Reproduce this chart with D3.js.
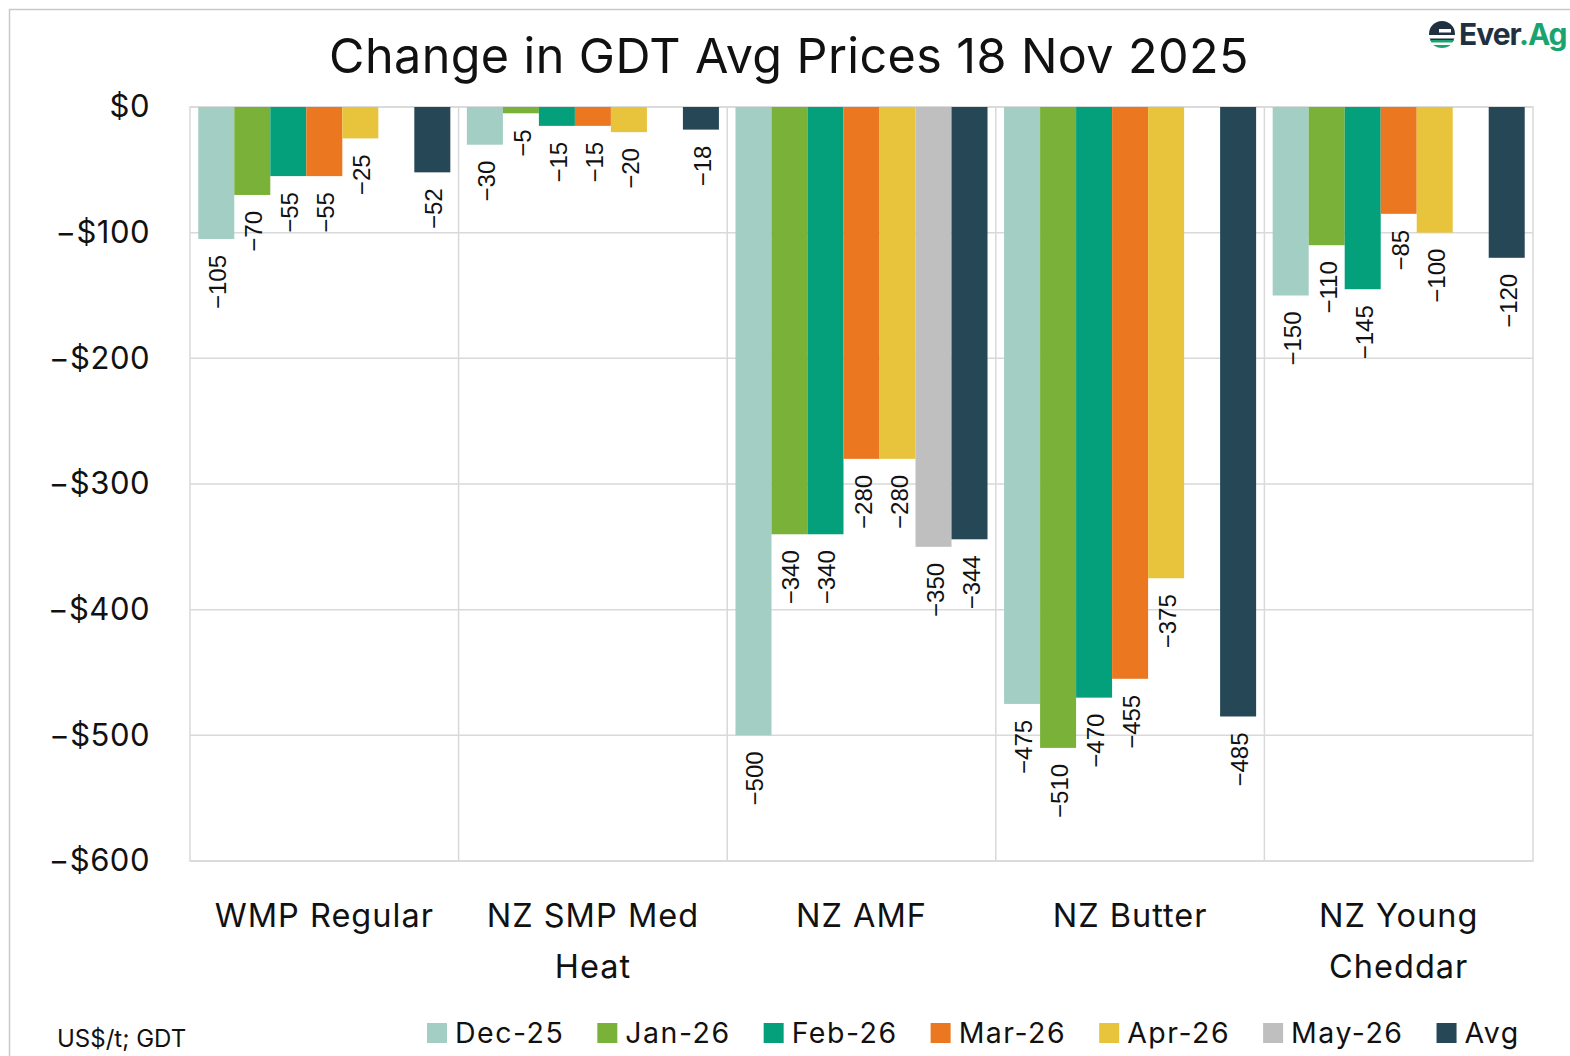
<!DOCTYPE html>
<html><head><meta charset="utf-8">
<script src="https://cdn.jsdelivr.net/npm/d3@7"></script>
<style>
html,body{margin:0;padding:0;background:#fff;}
svg{display:block;}
</style></head>
<body>
<svg id="chart" width="1570" height="1056"></svg>
<script>
const categories = ["WMP Regular", "NZ SMP Med Heat", "NZ AMF", "NZ Butter", "NZ Young Cheddar"];
const categoryLines = [["WMP Regular"], ["NZ SMP Med", "Heat"], ["NZ AMF"], ["NZ Butter"], ["NZ Young", "Cheddar"]];
const seriesNames = ["Dec-25", "Jan-26", "Feb-26", "Mar-26", "Apr-26", "May-26", "Avg"];
const dec25 = [-105, -30, -500, -475, -150];
const jan26 = [-70, -5, -340, -510, -110];
const feb26 = [-55, -15, -340, -470, -145];
const mar26 = [-55, -15, -280, -455, -85];
const apr26 = [-25, -20, -280, -375, -100];
const may26 = [null, null, -350, null, null];
const avg = [-52, -18, -344, -485, -120];
const yTicks = [0, -100, -200, -300, -400, -500, -600];
const colors = ["#a2cec3", "#7ab239", "#03a07b", "#eb7721", "#e8c33c", "#bfbfbf", "#264856"];

const seriesValues = [dec25, jan26, feb26, mar26, apr26, may26, avg];
const svg = d3.select("#chart");
const FONT = "Inter, 'Open Sans', sans-serif";

// outer frame
svg.append("rect").attr("x", 9.5).attr("y", 9.5).attr("width", 1620).attr("height", 1100)
  .attr("fill", "none").attr("stroke", "#c9c9c9").attr("stroke-width", 1.5);

const L = 190, R = 1533, T = 107, B = 861;
const x0 = d3.scaleBand().domain(categories).range([L, R]).padding(0);
const x1 = d3.scaleBand().domain(seriesNames).range([0, x0.bandwidth()]).paddingInner(0).paddingOuter(0.23);
const y = d3.scaleLinear().domain([-600, 0]).range([B, T]);

// gridlines
const grid = svg.append("g");
grid.selectAll("line.h").data(yTicks).join("line")
  .attr("x1", L).attr("x2", R).attr("y1", d => y(d)).attr("y2", d => y(d))
  .attr("stroke", "#d9d9d9").attr("stroke-width", 1.5);
grid.selectAll("line.v").data(categories.slice(1)).join("line")
  .attr("x1", d => x0(d)).attr("x2", d => x0(d)).attr("y1", T).attr("y2", B)
  .attr("stroke", "#d9d9d9").attr("stroke-width", 1.5);
grid.append("rect").attr("x", L).attr("y", T).attr("width", R - L).attr("height", B - T)
  .attr("fill", "none").attr("stroke", "#d9d9d9").attr("stroke-width", 1.5);

// y axis
const yAxis = d3.axisLeft(y).tickValues(yTicks).tickSize(0).tickPadding(40)
  .tickFormat(d => d === 0 ? "$0" : "\u2212$" + Math.abs(d));
const ya = svg.append("g").attr("transform", `translate(${L},0)`).call(yAxis);
ya.select(".domain").remove();
ya.selectAll("text").attr("font-family", FONT).attr("font-size", 31).attr("letter-spacing", 0.5).attr("fill", "#111");

// bars
const flat = [];
categories.forEach((c, ci) => {
  seriesNames.forEach((s, si) => {
    const v = seriesValues[si][ci];
    if (v !== null) flat.push({ c, s, v, color: colors[si] });
  });
});
const gb = svg.append("g");
gb.selectAll("rect").data(flat).join("rect")
  .attr("x", d => x0(d.c) + x1(d.s))
  .attr("y", d => y(0))
  .attr("width", x1.bandwidth())
  .attr("height", d => y(d.v) - y(0))
  .attr("fill", d => d.color);

// labels
gb.selectAll("text").data(flat).join("text")
  .attr("transform", d => `translate(${x0(d.c) + x1(d.s) + x1.bandwidth() / 2 + 10},${y(d.v) + 16}) rotate(-90)`)
  .attr("text-anchor", "end")
  .attr("font-family", "'Liberation Sans', Arial, sans-serif")
  .attr("font-size", 24).attr("fill", "#111")
  .text(d => "\u2212" + Math.abs(d.v));

// category labels
const gc = svg.append("g");
categories.forEach((c, i) => {
  const t = gc.append("text").attr("x", x0(c) + x0.bandwidth() / 2).attr("y", 927)
    .attr("text-anchor", "middle").attr("font-family", FONT).attr("font-size", 32.5)
    .attr("letter-spacing", 1).attr("fill", "#111");
  categoryLines[i].forEach((ln, li) => {
    t.append("tspan").attr("x", x0(c) + x0.bandwidth() / 2).attr("dy", li === 0 ? 0 : 51).text(ln);
  });
});

// title
svg.append("text").attr("x", 789).attr("y", 73).attr("text-anchor", "middle")
  .attr("font-family", FONT).attr("font-size", 48.5).attr("letter-spacing", 0.4).attr("fill", "#111")
  .text("Change in GDT Avg Prices 18 Nov 2025");

// unit note
svg.append("text").attr("x", 57).attr("y", 1047).attr("font-family", FONT).attr("font-size", 24).attr("fill", "#111")
  .text("US$/t; GDT");

// legend
const lg = svg.append("g");
let lx = 427;
seriesNames.forEach((s, i) => {
  lg.append("rect").attr("x", lx).attr("y", 1023).attr("width", 20).attr("height", 20).attr("fill", colors[i]);
  const t = lg.append("text").attr("x", lx + 28).attr("y", 1043).attr("font-family", FONT)
    .attr("font-size", 28.5).attr("letter-spacing", 1.5).attr("fill", "#111").text(s);
  lx += 28 + t.node().getComputedTextLength() + 33;
});

// logo
const logo = svg.append("g").attr("transform", "translate(1442,34)");
logo.append("circle").attr("r", 13).attr("fill", "#1f3140");
logo.append("rect").attr("x", -14).attr("y", 1).attr("width", 28).attr("height", 3.5).attr("fill", "#fff");
logo.append("path").attr("d", "M-12,6 L12,6 A13,13 0 0 1 -12,6 Z").attr("fill", "#1aa36f");
logo.append("rect").attr("x", -14).attr("y", 8.5).attr("width", 28).attr("height", 2.5).attr("fill", "#fff");
logo.append("rect").attr("x", -3).attr("y", -5).attr("width", 12).attr("height", 3.5).attr("fill", "#fff");
const lt = svg.append("text").attr("x", 1459).attr("y", 45).attr("font-family", FONT)
  .attr("font-size", 30).attr("font-weight", 700).attr("letter-spacing", -1);
lt.append("tspan").attr("fill", "#1f3140").text("Ever");
lt.append("tspan").attr("fill", "#1aa36f").text(".Ag");
</script>
</body></html>
